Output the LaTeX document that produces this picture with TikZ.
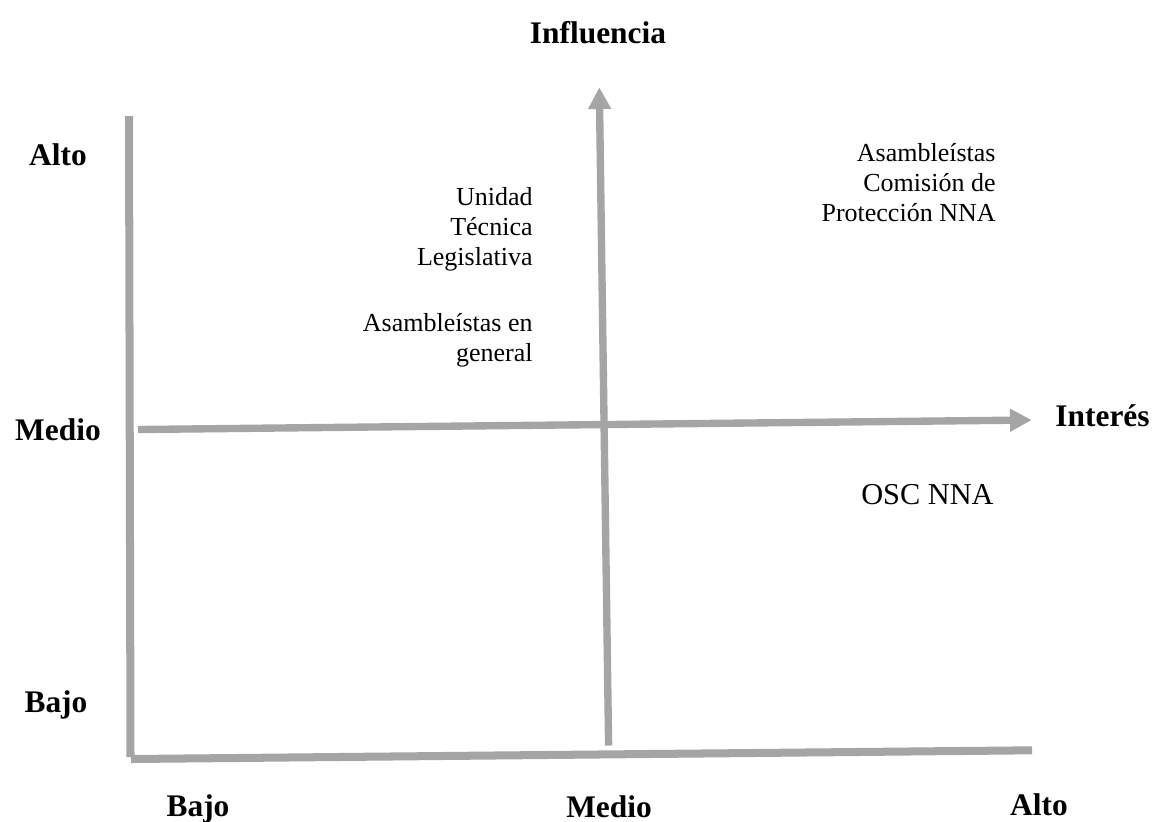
\documentclass[tikz,border=0pt]{standalone}
\usepackage{fontspec}
\setmainfont{Liberation Serif}
\usetikzlibrary{arrows.meta}
\definecolor{axisgray}{RGB}{165,165,165}

\begin{document}
\begin{tikzpicture}[x=0.4615pt, y=-0.4615pt,
    >={Triangle[length=10pt,width=10pt]},
    level/.style={font=\fontsize{14.5}{17}\selectfont\bfseries, inner sep=0pt, anchor=base},
    actor/.style={font=\fontsize{12}{13.8}\selectfont, align=right, inner sep=0pt, anchor=base east}]

    \useasboundingbox (0,0) rectangle (1153,821);

    % Frame: left edge and bottom edge
    \coordinate (frametop) at (129,116);
    \coordinate (framecorner) at (130.5,757);
    \coordinate (bottomleft) at (131,759);
    \coordinate (bottomright) at (1032,750.3);
    \draw[axisgray, line width=3.7pt] (frametop) -- (framecorner);
    \draw[axisgray, line width=3.7pt] (bottomleft) -- (bottomright);

    % Axes through the middle
    \coordinate (xstart) at (138,429.5);
    \coordinate (xend) at (1031.7,420);
    \coordinate (ystart) at (608.6,745.5);
    \coordinate (yend) at (599.3,87.3);
    \draw[->, axisgray, line width=3.4pt] (xstart) -- (xend);
    \draw[->, axisgray, line width=3.4pt] (ystart) -- (yend);

    % Axis titles
    \node[level] (influencia) at (598,43) {Influencia};
    \node[level] (interes) at (1102.5,426) {Interés};

    % Levels of influence
    \node[level] (inf-alto) at (58,165) {Alto};
    \node[level] (inf-medio) at (58,440) {Medio};
    \node[level] (inf-bajo) at (56,712) {Bajo};

    % Levels of interest
    \node[level] (int-bajo) at (198,816) {Bajo};
    \node[level] (int-medio) at (609,817) {Medio};
    \node[level] (int-alto) at (1039,815) {Alto};

    % Stakeholders (base is the last line)
    \node[actor] (utl) at (533,265) {Unidad\\Técnica\\Legislativa};
    \node[actor] (asam) at (533,361) {Asambleístas en\\general};
    \node[actor] (comision) at (996,221) {Asambleístas\\Comisión de\\Protección NNA};
    \node[actor, font=\fontsize{14}{16}\selectfont] (osc) at (994,504) {OSC NNA};

\end{tikzpicture}
\end{document}
